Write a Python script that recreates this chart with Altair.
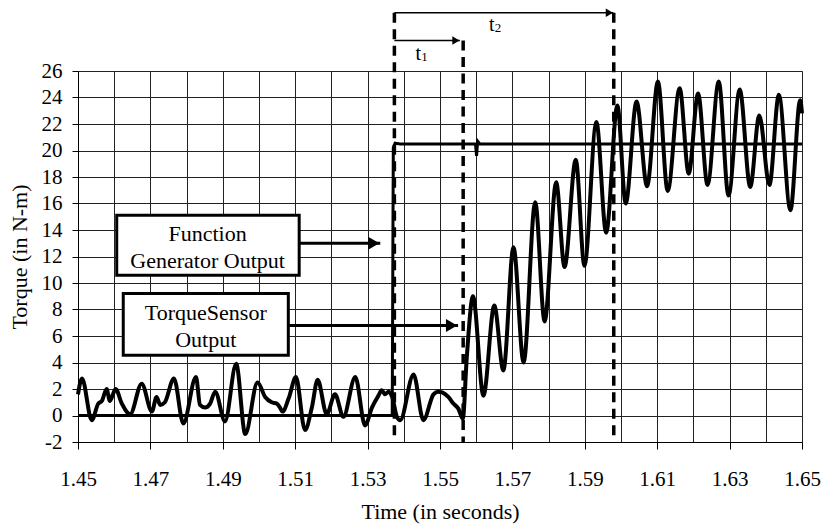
import altair as alt
import pandas as pd

FONT = "Liberation Serif"

# Torque sensor trace: time (s) and torque (N-m)
sensor_time = [
    1.4500, 1.4511, 1.4538, 1.4556, 1.4566, 1.4579, 1.4588, 1.4604, 1.4621, 1.4644,
    1.4676, 1.4704, 1.4717, 1.4727, 1.4740, 1.4765, 1.4791, 1.4826, 1.4837, 1.4851,
    1.4865, 1.4879, 1.4906, 1.4937, 1.4962, 1.4996, 1.5017, 1.5035, 1.5049, 1.5058,
    1.5065, 1.5082, 1.5102, 1.5127, 1.5146, 1.5162, 1.5187, 1.5210, 1.5233, 1.5266,
    1.5293, 1.5312, 1.5330, 1.5339, 1.5348, 1.5358, 1.5368, 1.5381, 1.5390, 1.5427,
    1.5454, 1.5482, 1.5495, 1.5506, 1.5523, 1.5537, 1.5551, 1.5563, 1.5574, 1.5591,
    1.5620, 1.5650, 1.5675, 1.5703, 1.5731, 1.5763, 1.5789, 1.5821, 1.5844, 1.5875,
    1.5899, 1.5932, 1.5959, 1.5990, 1.6013, 1.6043, 1.6072, 1.6102, 1.6129, 1.6162,
    1.6187, 1.6213, 1.6239, 1.6270, 1.6297, 1.6328, 1.6357, 1.6382, 1.6410, 1.6436,
    1.6468, 1.6495, 1.6500,
]
sensor_torque = [
    1.6, 2.8, -0.35, 0.9, 1.1, 2.0, 1.1, 2.0, 0.9, 0.1,
    2.4, 0.3, 1.4, 0.8, 1.0, 2.8, -0.6, 2.9, 0.8, 0.6,
    0.9, 1.8, -0.45, 3.9, -1.4, 2.5, 1.4, 1.0, 0.9, 0.6,
    0.3, 1.3, 2.9, -1.1, 0.6, 2.7, 0.1, 1.6, -0.1, 2.9,
    -0.75, 0.6, 1.5, 1.9, 1.6, 1.8, 1.4, -0.1, -0.35, 3.1,
    -0.35, 1.6, 1.8, 1.75, 1.4, 0.9, 0.5, -0.25, 4.4, 9.0,
    1.5, 8.3, 3.4, 12.7, 4.0, 16.1, 7.1, 17.6, 11.2, 19.3,
    11.3, 22.15, 13.8, 23.4, 16.0, 23.7, 17.3, 25.2, 16.95, 24.7,
    18.25, 24.3, 17.4, 25.2, 16.6, 24.6, 17.25, 22.65, 17.4, 24.2,
    15.5, 23.8, 22.8,
]

# Function generator output (step command)
generator_time = [1.4500, 1.5368, 1.5371, 1.5376, 1.5390, 1.5598, 1.5601, 1.5604, 1.5610, 1.6500]
generator_torque = [0.0, 0.0, 20.2, 20.55, 20.5, 20.5, 19.6, 20.7, 20.5, 20.5]

# Axis ticks
x_ticks = [1.45, 1.46, 1.47, 1.48, 1.49, 1.50, 1.51, 1.52, 1.53, 1.54, 1.55,
           1.56, 1.57, 1.58, 1.59, 1.60, 1.61, 1.62, 1.63, 1.64, 1.65]
y_ticks = [-2, 0, 2, 4, 6, 8, 10, 12, 14, 16, 18, 20, 22, 24, 26]

# Dashed time markers (step start, end of t1, end of t2)
marker_time = [1.5374, 1.5564, 1.5980]
marker_top = [30.4, 28.3, 30.4]
marker_bottom = [-1.7, -2.0, -1.7]

# Interval arrows t1 and t2
interval_start = [1.5374, 1.5374]
interval_end = [1.5555, 1.5979]
interval_level = [28.3, 30.4]
interval_sub = ["1", "2"]
interval_label_time = [1.5440, 1.5643]
interval_label_level = [26.86, 29.02]

# Callout boxes
box_left = [1.4607, 1.4625]
box_right = [1.5111, 1.5081]
box_top = [15.11, 9.2]
box_bottom = [10.58, 4.54]
callout_text = ["Function", "Generator Output", "TorqueSensor", "Output"]
callout_time = [1.4858, 1.4858, 1.4853, 1.4853]
callout_level = [13.67, 11.64, 7.71, 5.68]
callout_arrow_start = [1.5111, 1.5081]
callout_arrow_end = [1.5335, 1.5550]
callout_arrow_level = [13.0, 6.8]

sensor = pd.DataFrame({"t": sensor_time, "v": sensor_torque})
generator = pd.DataFrame({"t": generator_time, "v": generator_torque})
markers = pd.DataFrame({"t": marker_time, "top": marker_top, "bottom": marker_bottom})
intervals = pd.DataFrame({
    "t": interval_start, "t_end": interval_end, "v": interval_level,
    "sub": interval_sub, "lt": interval_label_time, "lv": interval_label_level,
})
boxes = pd.DataFrame({"t": box_left, "t_end": box_right, "v": box_top, "v_end": box_bottom})
callouts = pd.DataFrame({"t": callout_time, "v": callout_level, "label": callout_text})
callout_arrows = pd.DataFrame({
    "t": callout_arrow_start, "t_end": callout_arrow_end, "v": callout_arrow_level,
})

X_SCALE = alt.Scale(domain=[1.45, 1.65], nice=False, zero=False)
Y_SCALE = alt.Scale(domain=[-2, 26], nice=False, zero=False)

odd_hundredth = "round(datum.value * 100) % 2 == 1"

x_axis = alt.Axis(
    values=x_ticks,
    grid=True, gridColor="#222", gridWidth=1,
    labelExpr=f"{odd_hundredth} ? format(datum.value, '.2f') : ''",
    labelOverlap=False, labelFlush=False,
    tickOpacity={"condition": {"test": odd_hundredth, "value": 1}, "value": 0},
    tickSize=7, tickColor="black", domainColor="black",
    labelFont=FONT, labelFontSize=21, labelColor="black", labelPadding=19,
    title="Time (in seconds)", titleFont=FONT, titleFontSize=22,
    titleFontWeight="normal", titleColor="black",
    titleX=362, titleY=76, titleAlign="center", titleBaseline="alphabetic",
)
y_axis = alt.Axis(
    values=y_ticks,
    grid=True, gridColor="#222", gridWidth=1,
    tickSize=6, tickColor="black", domainColor="black",
    # plain hyphen for negative numbers
    labelExpr="toString(datum.value)",
    labelFont=FONT, labelFontSize=21, labelColor="black", labelPadding=10,
    labelOverlap=False, labelFlush=False,
    title="Torque (in N-m)", titleFont=FONT, titleFontSize=22,
    titleFontWeight="normal", titleColor="black",
    titleX=-52, titleY=185.5, titleAngle=270, titleAlign="center",
    titleBaseline="alphabetic",
)

# every layer shares the same scales and axis definitions so they merge cleanly
xs = dict(scale=X_SCALE, axis=x_axis)
ys = dict(scale=Y_SCALE, axis=y_axis)

generator_line = alt.Chart(generator).mark_line(
    color="black", strokeWidth=3, interpolate="linear"
).encode(
    x=alt.X("t:Q", **xs),
    y=alt.Y("v:Q", **ys),
)

sensor_line = alt.Chart(sensor).mark_line(
    color="black", strokeWidth=4, interpolate="monotone", strokeJoin="round"
).encode(
    x=alt.X("t:Q", **xs),
    y=alt.Y("v:Q", **ys),
)

marker_lines = alt.Chart(markers).mark_rule(
    color="black", strokeWidth=3.5, strokeDash=[10, 6.5]
).encode(
    x=alt.X("t:Q", **xs),
    y=alt.Y("top:Q", **ys),
    y2="bottom:Q",
)

interval_shafts = alt.Chart(intervals).mark_rule(color="black", strokeWidth=1.6).encode(
    x=alt.X("t:Q", **xs), x2="t_end:Q", y=alt.Y("v:Q", **ys)
)
interval_heads = alt.Chart(intervals).mark_point(
    shape="triangle-right", filled=True, color="black", opacity=1, size=70, xOffset=-4
).encode(x=alt.X("t_end:Q", **xs), y=alt.Y("v:Q", **ys))
interval_t = alt.Chart(intervals).mark_text(
    text="t", font=FONT, fontSize=20, color="black", align="center", baseline="alphabetic"
).encode(x=alt.X("lt:Q", **xs), y=alt.Y("lv:Q", **ys))
interval_index = alt.Chart(intervals).mark_text(
    font=FONT, fontSize=13, color="black", align="left", baseline="alphabetic", dx=3, dy=1.5
).encode(x=alt.X("lt:Q", **xs), y=alt.Y("lv:Q", **ys), text="sub:N")

box_rects = alt.Chart(boxes).mark_rect(fill="white", stroke="black", strokeWidth=3).encode(
    x=alt.X("t:Q", **xs), x2="t_end:Q",
    y=alt.Y("v:Q", **ys), y2="v_end:Q",
)
box_labels = alt.Chart(callouts).mark_text(
    font=FONT, fontSize=22, color="black", align="center", baseline="middle"
).encode(x=alt.X("t:Q", **xs), y=alt.Y("v:Q", **ys), text="label:N")

arrow_shafts = alt.Chart(callout_arrows).mark_rule(color="black", strokeWidth=3).encode(
    x=alt.X("t:Q", **xs), x2="t_end:Q", y=alt.Y("v:Q", **ys)
)
arrow_heads = alt.Chart(callout_arrows).mark_point(
    shape="triangle-right", filled=True, color="black", opacity=1, size=170, xOffset=-6.5
).encode(x=alt.X("t_end:Q", **xs), y=alt.Y("v:Q", **ys))

chart = alt.layer(
    generator_line, sensor_line, marker_lines,
    interval_shafts, interval_heads, interval_t, interval_index,
    box_rects, box_labels, arrow_shafts, arrow_heads,
).properties(
    width=724, height=371,
    autosize=alt.AutoSizeParams(type="none"),
    padding={"left": 78, "top": 71, "right": 20, "bottom": 85},
    background="white",
).configure_view(stroke="#888", strokeWidth=1)

chart.save("out.html", embed_options={"renderer": "svg", "actions": False})
